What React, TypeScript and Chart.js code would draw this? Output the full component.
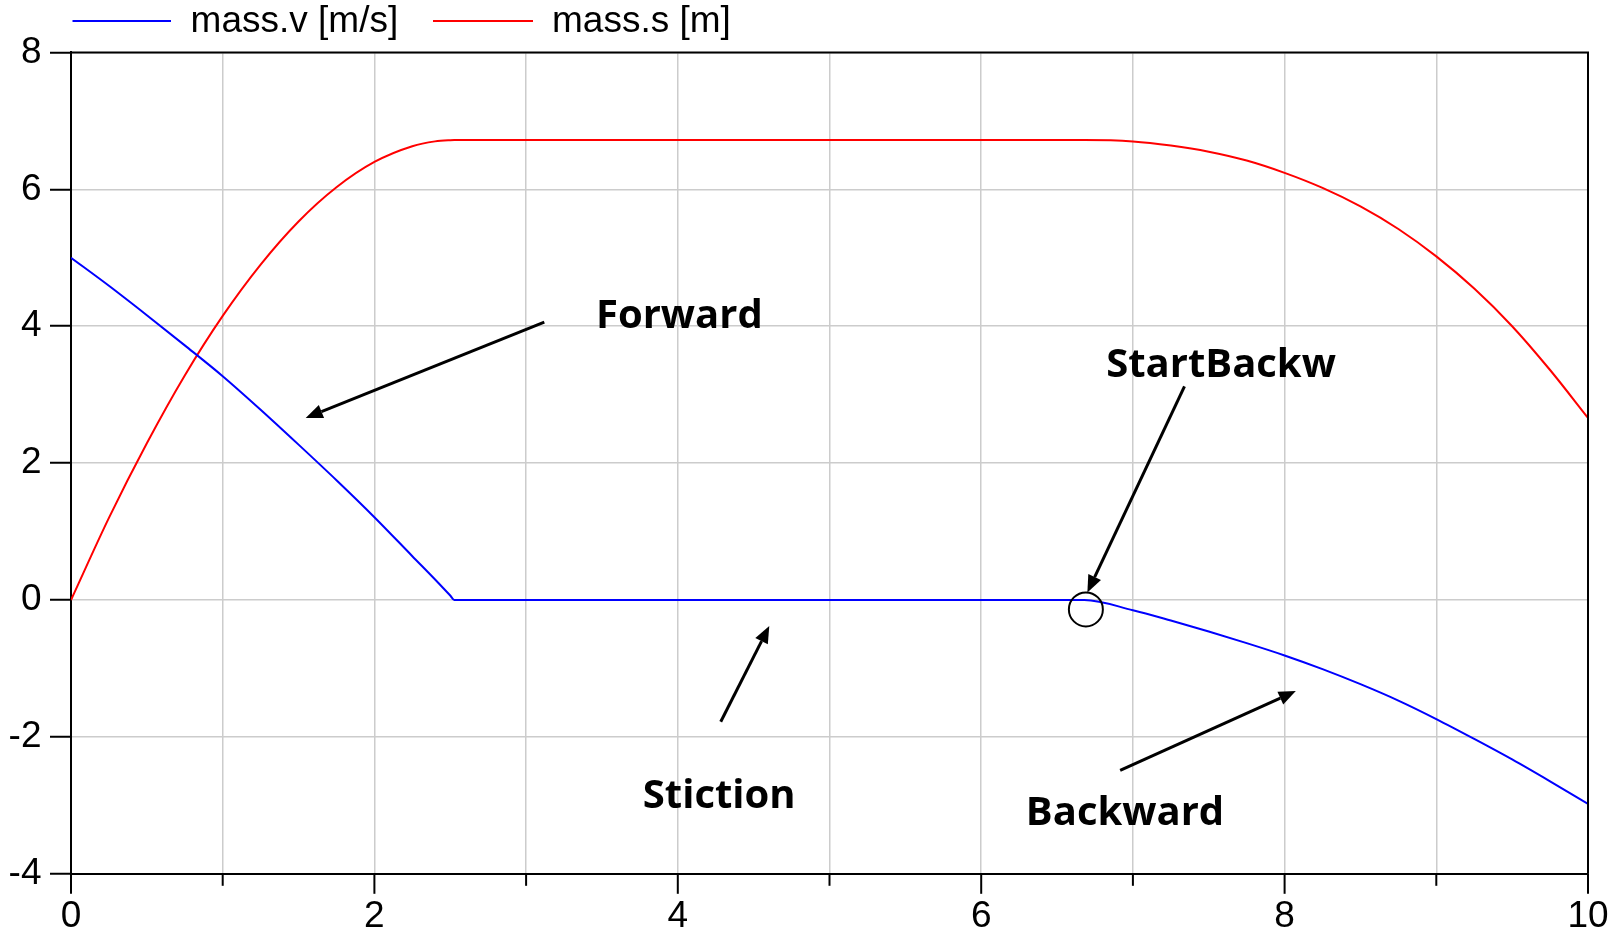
import React, { useEffect, useRef } from "react";
import { Chart, registerables } from "chart.js";

Chart.register(...registerables);

// ---- data ----
const time = [
  0, 0.25, 0.5, 0.75, 1.0, 1.25, 1.5, 1.75, 2.0, 2.25, 2.4, 2.5, 2.527, 3, 4, 5, 6, 6.68,
  7.0, 7.25, 7.5, 7.75, 8.0, 8.25, 8.5, 8.75, 9.0, 9.25, 9.5, 9.75, 10,
];
const massV = [
  5.0, 4.59, 4.16, 3.72, 3.27, 2.78, 2.27, 1.75, 1.21, 0.64, 0.3, 0.065, 0, 0, 0, 0, 0, 0,
  -0.15, -0.3, -0.46, -0.63, -0.81, -1.01, -1.23, -1.47, -1.74, -2.03, -2.33, -2.65, -2.98,
];
const massS = [
  0, 1.2, 2.29, 3.28, 4.15, 4.9, 5.53, 6.03, 6.4, 6.63, 6.7, 6.718, 6.72, 6.72, 6.72, 6.72, 6.72, 6.72,
  6.7, 6.64, 6.55, 6.42, 6.24, 6.02, 5.75, 5.42, 5.02, 4.55, 4.0, 3.36, 2.66,
];
const seriesLabels = ["mass.v [m/s]", "mass.s [m]"];
const seriesColors = ["#0000ff", "#ff0000"];

const xTicks = [0, 1, 2, 3, 4, 5, 6, 7, 8, 9, 10];
const yTicks = [-4, -2, 0, 2, 4, 6, 8];

// annotations (data coordinates)
const noteTexts = ["Forward", "StartBackw", "Stiction", "Backward"];
const noteX = [4.01, 7.581, 4.273, 6.948];
const noteBaseY = [3.97, 3.262, -3.043, -3.29];
const arrowFromX = [3.12, 7.34, 4.283, 6.916];
const arrowFromY = [4.06, 3.12, -1.778, -2.49];
const arrowToX = [1.547, 6.7, 4.603, 8.074];
const arrowToY = [2.66, 0.11, -0.38, -1.33];
const markerX = [6.69];
const markerY = [-0.137];

const AXIS_FONT = '"Liberation Sans", Arial, sans-serif';
const NOTE_FONT = 'bold 40px "Open Sans", Lato, sans-serif';

const overlayPlugin = {
  id: "overlay",
  afterDatasetsDraw(chart: any) {
    const { ctx, chartArea } = chart;
    const xs = chart.scales.x;
    const ys = chart.scales.y;
    ctx.save();

    // frame: top and right
    ctx.strokeStyle = "#000";
    ctx.lineWidth = 2;
    ctx.beginPath();
    ctx.moveTo(chartArea.left, chartArea.top);
    ctx.lineTo(chartArea.right, chartArea.top);
    ctx.lineTo(chartArea.right, chartArea.bottom);
    ctx.stroke();

    // x tick marks (major longer)
    for (const v of xTicks) {
      const px = xs.getPixelForValue(v);
      const len = v % 2 === 0 ? 20 : 12;
      ctx.beginPath();
      ctx.moveTo(px, chartArea.bottom);
      ctx.lineTo(px, chartArea.bottom + len);
      ctx.stroke();
    }

    // arrows
    ctx.fillStyle = "#000";
    ctx.strokeStyle = "#000";
    for (let i = 0; i < arrowFromX.length; i++) {
      const x1 = xs.getPixelForValue(arrowFromX[i]);
      const y1 = ys.getPixelForValue(arrowFromY[i]);
      const x2 = xs.getPixelForValue(arrowToX[i]);
      const y2 = ys.getPixelForValue(arrowToY[i]);
      const ang = Math.atan2(y2 - y1, x2 - x1);
      const headLen = 17;
      const headHalf = 7;
      const bx = x2 - headLen * Math.cos(ang);
      const by = y2 - headLen * Math.sin(ang);
      ctx.lineWidth = 3;
      ctx.beginPath();
      ctx.moveTo(x1, y1);
      ctx.lineTo(bx, by);
      ctx.stroke();
      ctx.beginPath();
      ctx.moveTo(x2, y2);
      ctx.lineTo(bx + headHalf * Math.sin(ang), by - headHalf * Math.cos(ang));
      ctx.lineTo(bx - headHalf * Math.sin(ang), by + headHalf * Math.cos(ang));
      ctx.closePath();
      ctx.fill();
    }

    // circle marker
    ctx.lineWidth = 2;
    for (let i = 0; i < markerX.length; i++) {
      ctx.beginPath();
      ctx.arc(xs.getPixelForValue(markerX[i]), ys.getPixelForValue(markerY[i]), 17, 0, Math.PI * 2);
      ctx.stroke();
    }

    // note texts
    ctx.font = NOTE_FONT;
    ctx.textAlign = "center";
    ctx.textBaseline = "alphabetic";
    for (let i = 0; i < noteTexts.length; i++) {
      ctx.fillText(noteTexts[i], xs.getPixelForValue(noteX[i]), ys.getPixelForValue(noteBaseY[i]));
    }
    ctx.restore();
  },
  afterDraw(chart: any) {
    const { ctx } = chart;
    ctx.save();
    const lineStarts = [72.5, 433];
    const lineEnds = [171, 533];
    const textStarts = [190.6, 552];
    ctx.font = "37px " + AXIS_FONT;
    ctx.textAlign = "left";
    ctx.textBaseline = "middle";
    chart.data.datasets.forEach((ds: any, i: number) => {
      ctx.strokeStyle = ds.borderColor;
      ctx.lineWidth = 2;
      ctx.beginPath();
      ctx.moveTo(lineStarts[i], 21);
      ctx.lineTo(lineEnds[i], 21);
      ctx.stroke();
      ctx.fillStyle = "#000";
      ctx.fillText(ds.label, textStarts[i], 22);
    });
    ctx.restore();
  },
};

export default function App() {
  const ref = useRef<HTMLCanvasElement | null>(null);
  useEffect(() => {
    if (!ref.current) return;
    const chart = new Chart(ref.current, {
      type: "line",
      data: {
        datasets: [
          {
            label: seriesLabels[0],
            data: time.map((t, i) => ({ x: t, y: massV[i] })),
            borderColor: seriesColors[0],
            borderWidth: 2,
            pointRadius: 0,
            cubicInterpolationMode: "monotone",
          },
          {
            label: seriesLabels[1],
            data: time.map((t, i) => ({ x: t, y: massS[i] })),
            borderColor: seriesColors[1],
            borderWidth: 2,
            pointRadius: 0,
            cubicInterpolationMode: "monotone",
          },
        ],
      },
      options: {
        animation: false,
        responsive: false,
        devicePixelRatio: 1,
        layout: { padding: { left: 10, right: 36, top: 52.4, bottom: 0 } },
        plugins: { legend: { display: false }, tooltip: { enabled: false } },
        scales: {
          x: {
            type: "linear",
            min: 0,
            max: 10,
            afterBuildTicks: (s: any) => {
              s.ticks = xTicks.map((v) => ({ value: v }));
            },
            afterFit: (s: any) => {
              s.height = 63.2;
              s.paddingLeft = 0;
              s.paddingRight = 0;
            },
            ticks: {
              autoSkip: false,
              maxRotation: 0,
              padding: 21.2,
              color: "#000",
              font: { family: AXIS_FONT, size: 37, lineHeight: 1.2 },
              callback: (v: any) => (Number(v) % 2 === 0 ? String(v) : ""),
            },
            grid: { color: "#cccccc", lineWidth: 1.5, drawTicks: false },
            border: { color: "#000", width: 2 },
          },
          y: {
            type: "linear",
            min: -4,
            max: 8,
            afterBuildTicks: (s: any) => {
              s.ticks = yTicks.map((v) => ({ value: v }));
            },
            afterFit: (s: any) => {
              s.width = 61;
              s.paddingTop = 0;
              s.paddingBottom = 0;
            },
            ticks: {
              padding: 8.5,
              color: "#000",
              font: { family: AXIS_FONT, size: 37, lineHeight: 1.2 },
            },
            grid: {
              color: "#cccccc",
              lineWidth: 1.5,
              drawTicks: true,
              tickLength: 21,
              tickColor: "#000",
              tickWidth: 2,
            },
            border: { color: "#000", width: 2 },
          },
        },
      },
      plugins: [overlayPlugin],
    });
    return () => chart.destroy();
  }, []);
  return (
    <div style={{ position: "fixed", left: 0, top: 0, width: 1624, height: 937, background: "#fff" }}>
      <canvas ref={ref} width={1624} height={937} style={{ display: "block" }} />
    </div>
  );
}
